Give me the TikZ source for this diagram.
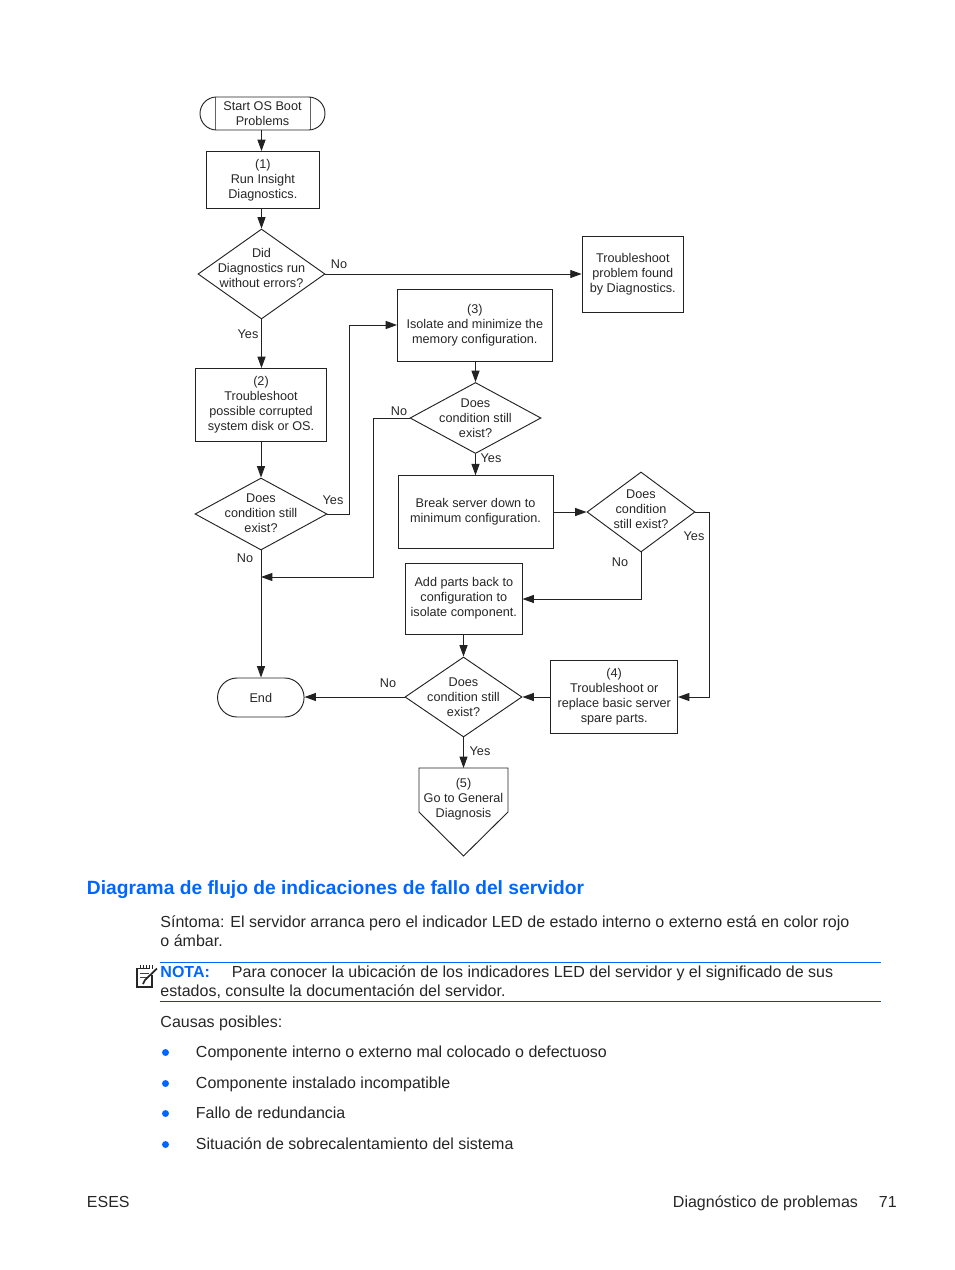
\documentclass[tikz,border=0pt]{standalone}
\usepackage{fontspec}
\setmainfont{Liberation Sans}
\usetikzlibrary{positioning,shapes.geometric,shapes.misc,arrows.meta}

\definecolor{hpblue}{HTML}{0066FF}
\definecolor{inkline}{HTML}{222222}

% text of a diamond must not widen the shape
\newcommand{\dtext}[2][0pt]{\smash{\makebox[0pt]{\raisebox{#1}{\begin{tabular}{@{}c@{}}#2\end{tabular}}}}}

\tikzset{
  flowbox/.style={draw=inkline,rectangle,align=center,inner sep=0pt},
  flowdiam/.style={draw=inkline,diamond,inner sep=0pt},
  flowend/.style={draw=inkline,rounded rectangle,align=center,inner sep=0pt},
  flowlabel/.style={inner sep=0pt},
  pagetext/.style={font=\fontsize{12}{14.25}\selectfont,anchor=base west,inner sep=0pt,align=left},
  pagerule/.style={line width=0.6pt},
  arr/.style={->,draw=inkline}
}

\begin{document}
\begin{tikzpicture}
   [x=0.75pt,y=-0.75pt,line width=0.7pt,>={Triangle[length=8.5pt,width=6pt]},
    every node/.style={font=\fontsize{9.5}{11.25}\selectfont,text=black!85}]

\useasboundingbox (0,0) rectangle (954,1270);

%%%%%%%%%%%%%%%%%%%%%%%%%%%%%%%%%%%%%%%%%%%%%%%%%%%%%%%%%%%%%%%
% Left column
%%%%%%%%%%%%%%%%%%%%%%%%%%%%%%%%%%%%%%%%%%%%%%%%%%%%%%%%%%%%%%%

\node[flowend,minimum width=93.75pt,minimum height=24.75pt,
  path picture={\draw[draw=inkline!70] ([xshift=11.25pt]path picture bounding box.north west) -- ([xshift=11.25pt]path picture bounding box.south west);
                \draw[draw=inkline!70] ([xshift=-11.25pt]path picture bounding box.north east) -- ([xshift=-11.25pt]path picture bounding box.south east);}]
  (start) at (262.5,113.5) {Start OS Boot\\Problems};
\node[flowbox,minimum width=84.4pt,minimum height=42.4pt] (run) at (262.8,179.8) {(1)\\Run Insight\\Diagnostics.};
\node[flowdiam,minimum width=95.25pt,minimum height=67.5pt,aspect=1.41] (didrun) at (261.5,274) {\dtext[1.5pt]{Did\\Diagnostics run\\without errors?}};
\node[flowbox,minimum width=98.25pt,minimum height=54.4pt] (disk) at (261,404.8) {(2)\\Troubleshoot\\possible corrupted\\system disk or OS.};
\node[flowdiam,minimum width=99pt,minimum height=54pt,aspect=1.83] (still1) at (261,514) {\dtext[-2.25pt]{Does\\condition still\\exist?}};
\node[flowend,minimum width=64.9pt,minimum height=29.25pt] (end) at (260.8,697.5) {End};

%%%%%%%%%%%%%%%%%%%%%%%%%%%%%%%%%%%%%%%%%%%%%%%%%%%%%%%%%%%%%%%
% Middle and right columns
%%%%%%%%%%%%%%%%%%%%%%%%%%%%%%%%%%%%%%%%%%%%%%%%%%%%%%%%%%%%%%%

\node[flowbox,minimum width=76.1pt,minimum height=57pt] (found) at (632.8,274) {Troubleshoot\\problem found\\by Diagnostics.};
\node[flowbox,minimum width=115.9pt,minimum height=53.6pt] (memory) at (474.8,325.5) {(3)\\Isolate and minimize the\\memory configuration.};
\node[flowdiam,minimum width=98.25pt,minimum height=53.25pt,aspect=1.85] (still2) at (475.5,418) {\dtext[-3pt]{Does\\condition still\\exist?}};
\node[flowbox,minimum width=116.25pt,minimum height=54.4pt] (breakdown) at (475.5,512) {Break server down to\\minimum configuration.};
\node[flowdiam,minimum width=81pt,minimum height=60pt,aspect=1.35] (still3) at (641,512) {\dtext[-1.1pt]{Does\\condition\\still exist?}};
\node[flowbox,minimum width=87.4pt,minimum height=53.25pt] (addback) at (463.8,598.5) {Add parts back to\\configuration to\\isolate component.};
\node[flowdiam,minimum width=87.75pt,minimum height=60pt,aspect=1.46] (still4) at (463.5,697) {\dtext[-3.4pt]{Does\\condition still\\exist?}};
\node[flowbox,minimum width=94.9pt,minimum height=55.1pt] (spare) at (614.2,697.2) {(4)\\Troubleshoot or\\replace basic server\\spare parts.};

% Off page shape
\node[align=center,inner sep=0pt,outer sep=0pt,minimum width=66.75pt,minimum height=46.5pt] (general) at (463.5,799) {(5)\\Go to General\\Diagnosis};
\coordinate (general_tip) at (463.5,856);
\coordinate (general_R) at (508,812);
\coordinate (general_L) at (419,812);
\draw[draw=inkline] (general.north west) -- (general.north east) -- (general_R) -- (general_tip) -- (general_L) -- cycle;

%%%%%%%%%%%%%%%%%%%%%%%%%%%%%%%%%%%%%%%%%%%%%%%%%%%%%%%%%%%%%%%
% Connecting nodes and adding labels
%%%%%%%%%%%%%%%%%%%%%%%%%%%%%%%%%%%%%%%%%%%%%%%%%%%%%%%%%%%%%%%

\draw[arr] (start.south -| didrun.north) -- (run.north -| didrun.north);
\draw[arr] (run.south -| didrun.north) -- (didrun.north);
\draw[arr] (didrun.east) -- (found.west |- didrun.east);
\draw[arr] (didrun.south) -- (disk.north -| didrun.south);
\draw[arr] (disk.south) -- (still1.north);
\draw[arr] (still1.east) -- (349.5,514) -- (349.5,325) -- (memory.west |- 349.5,325);
\draw[arr] (still1.south) -- (end.north -| still1.south);
\draw[arr] (memory.south -| still2.north) -- (still2.north);
\draw[arr] (still2.west) -- (373.5,418) -- (373.5,577) -- (261,577);
\draw[arr] (still2.south) -- (breakdown.north -| still2.south);
\draw[arr] (breakdown.east) -- (still3.west);
\draw[arr] (still3.east) -- (709.5,512) -- (709.5,697) -- (spare.east |- still4.east);
\draw[arr] (still3.south) -- (641,599) -- (addback.east |- 641,599);
\draw[arr] (addback.south -| still4.north) -- (still4.north);
\draw[arr] (spare.west |- still4.east) -- (still4.east);
\draw[arr] (still4.west) -- (end.east |- still4.west);
\draw[arr] (still4.south) -- (general.north);

\node[flowlabel] (no1) at (339,264) {No};
\node[flowlabel] (yes1) at (248,334) {Yes};
\node[flowlabel] (yes2) at (333,500) {Yes};
\node[flowlabel] (no2) at (245,558) {No};
\node[flowlabel] (no3) at (399,411) {No};
\node[flowlabel] (yes3) at (491,458) {Yes};
\node[flowlabel] (yes4) at (694,536) {Yes};
\node[flowlabel] (no4) at (620,562) {No};
\node[flowlabel] (no5) at (388,683) {No};
\node[flowlabel] (yes5) at (480,751) {Yes};

%%%%%%%%%%%%%%%%%%%%%%%%%%%%%%%%%%%%%%%%%%%%%%%%%%%%%%%%%%%%%%%
% Page text
%%%%%%%%%%%%%%%%%%%%%%%%%%%%%%%%%%%%%%%%%%%%%%%%%%%%%%%%%%%%%%%

\node[pagetext,font=\fontsize{14.4}{17}\selectfont\bfseries,text=hpblue] (heading) at (86.5,894) {Diagrama de flujo de indicaciones de fallo del servidor};
\node[pagetext] (symptom1) at (160,927) {Síntoma: El servidor arranca pero el indicador LED de estado interno o externo está en color rojo};
\node[pagetext] (symptom2) at (160,946) {o ámbar.};

\node[pagetext] (note1) at (160,977) {\textcolor{hpblue}{\textbf{NOTA:}}\hspace{16.5pt}Para conocer la ubicación de los indicadores LED del servidor y el significado de sus};
\node[pagetext] (note2) at (160,996) {estados, consulte la documentación del servidor.};
\draw[pagerule,draw=hpblue] (160,962.5) -- (881,962.5);
\draw[pagerule,draw=hpblue!70!black] (160,1001.5) -- (881,1001.5);

% Note icon
\draw[draw=black!85,line width=1pt] (152,975) -- (152,987) -- (137,987) -- (137,968.5) -- (150,968.5);
\foreach \tick in {140,143,146,149,152}
  \draw[draw=black!85,line width=0.6pt] (\tick,965) -- (\tick,969);
\draw[draw=black!75,line width=0.6pt] (140,973) -- (149,973);
\draw[draw=black!75,line width=0.6pt] (140,977) -- (147,977);
\draw[draw=black!85,line width=1.3pt] (143,984) -- (145,980) -- (157,968.5);

\node[pagetext] (causes) at (160,1027) {Causas posibles:};

\foreach \cname/\ypos/\ctext in {c1/1057/Componente interno o externo mal colocado o defectuoso,
    c2/1088/Componente instalado incompatible,
    c3/1118/Fallo de redundancia,
    c4/1149/Situación de sobrecalentamiento del sistema}{
  \fill[hpblue] (165.5,\ypos-4.5) circle (2.6pt);
  \node[pagetext] (\cname) at (195.5,\ypos) {\ctext};
}

\node[pagetext] (footL) at (86.5,1207) {ESES};
\node[pagetext] (footR) at (672.5,1207) {Diagnóstico de problemas};
\node[pagetext] (footN) at (878.5,1207) {71};

\end{tikzpicture}
\end{document}
